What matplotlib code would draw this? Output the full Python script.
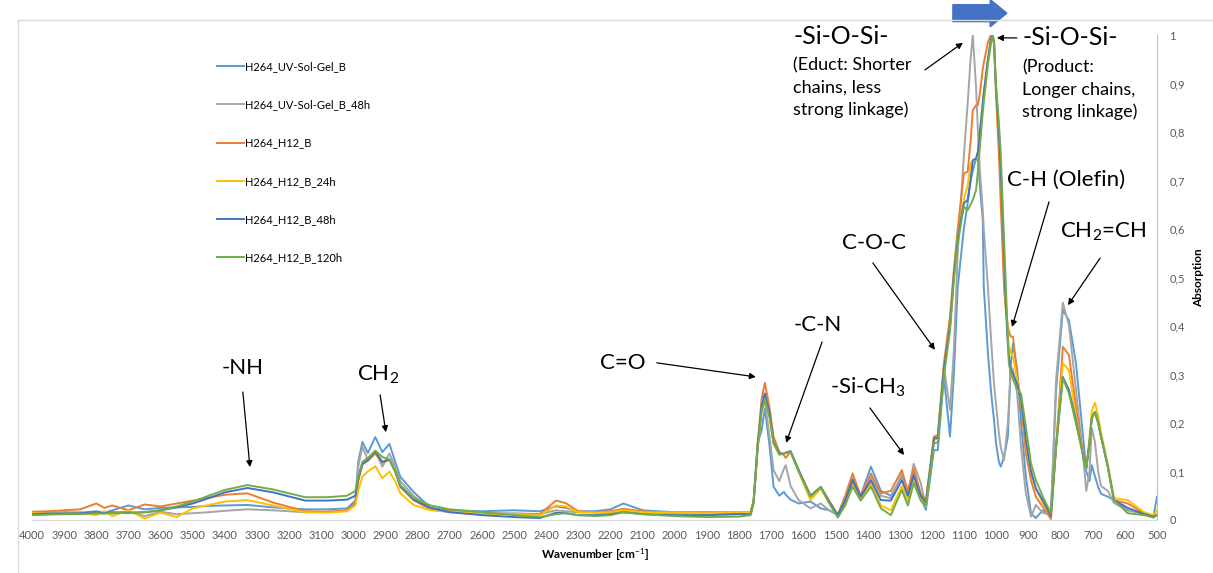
import numpy as np
import matplotlib
matplotlib.use('Agg')
import matplotlib.pyplot as plt
from matplotlib.patches import FancyArrow
from matplotlib.lines import Line2D
from matplotlib.ticker import FuncFormatter, MultipleLocator

plt.rcParams['font.family'] = ['Lato', 'DejaVu Sans']
plt.rcParams['mathtext.fontset'] = 'custom'
plt.rcParams['mathtext.rm'] = 'Lato'
plt.rcParams['mathtext.it'] = 'Lato:italic'
plt.rcParams['mathtext.bf'] = 'Lato:bold'

# Wellenzahl-Raster (cm^-1), von links nach rechts
wavenumber = [
    4000, 3950, 3900, 3850, 3800, 3775, 3750, 3700, 3650, 3600, 3550, 3500,
    3450, 3400, 3330, 3250, 3150, 3080,
    3020, 2994, 2985, 2972, 2955, 2932, 2910, 2888, 2870, 2854, 2813, 2760,
    2700, 2600, 2500, 2420, 2370, 2340, 2300, 2250, 2200, 2160, 2100, 2000, 1900, 1800,
    1764, 1755, 1742, 1730, 1720, 1705, 1693, 1675, 1661, 1655, 1640,
    1615, 1578, 1546, 1520, 1493, 1470, 1447, 1422, 1390, 1359, 1328, 1294, 1275, 1257, 1235, 1219, 1194,
    1182, 1163, 1144, 1132, 1120, 1101, 1089, 1080, 1073, 1063, 1057, 1051, 1042, 1039,
    1026, 1017, 1011, 1007, 1001, 992, 986, 976, 970, 964, 961, 955, 948, 935,
    923, 908, 892, 877, 855, 830, 814, 793, 774, 752, 727, 720, 710, 703, 693, 683, 674, 653, 634, 591, 540, 511, 500,
]

uv_b = [
    .012, .014, .016, .015, .018, .015, .020, .030, .022, .025, .026, .027,
    .029, .030, .031, .026, .022, .022,
    .024, .040, .120, .161, .138, .171, .140, .157, .120, .089, .058, .025,
    .020, .018, .020, .018, .028, .025, .018, .018, .022, .034, .020, .016, .016, .016,
    .016, .035, .160, .185, .230, .150, .069, .050, .058, .052, .042,
    .034, .038, .024, .020, .012, .045, .086, .050, .110, .060, .050, .090, .050, .100, .045, .021, .144,
    .144, .296, .172, .300, .480, .600, .653, .700, .720, .745, .742, .687, .619, .481,
    .344, .270, .230, .206, .160, .120, .110, .130, .150, .172, .220, .320, .364, .310,
    .200, .090, .014, .004, .020, .010, .268, .433, .412, .323, .151, .100, .080, .113, .090, .068, .054, .048, .041, .020, .015, .007, .048,
]

uv_b_48h = [
    .015, .016, .014, .016, .012, .016, .013, .018, .008, .017, .012, .014,
    .016, .019, .022, .020, .016, .017,
    .020, .035, .110, .151, .124, .141, .110, .137, .110, .080, .050, .022,
    .016, .014, .014, .012, .020, .018, .016, .016, .016, .018, .016, .016, .016, .016,
    .016, .038, .158, .228, .245, .170, .103, .080, .105, .113, .070,
    .041, .024, .034, .020, .010, .040, .080, .045, .089, .050, .045, .095, .055, .116, .076, .027, .165,
    .170, .316, .227, .350, .550, .750, .859, .950, 1.00, .893, .800, .720, .640, .600,
    .481, .380, .320, .280, .240, .180, .150, .124, .160, .200, .234, .316, .310, .260,
    .150, .055, .007, .031, .015, .010, .289, .448, .402, .268, .110, .060, .100, .190, .160, .100, .070, .060, .035, .020, .012, .007, .010,
]

h12_b = [
    .017, .018, .020, .022, .034, .025, .030, .020, .032, .028, .034, .040,
    .046, .052, .055, .036, .018, .017,
    .020, .035, .080, .115, .122, .137, .118, .124, .100, .069, .041, .022,
    .018, .014, .012, .012, .040, .035, .018, .016, .018, .023, .018, .014, .013, .015,
    .017, .041, .160, .250, .283, .230, .172, .140, .134, .128, .141,
    .103, .050, .068, .040, .010, .050, .096, .050, .096, .055, .060, .103, .060, .106, .055, .041, .172,
    .175, .323, .420, .515, .600, .715, .718, .780, .845, .855, .856, .880, .930, .942,
    .985, 1.00, .995, .985, .880, .756, .650, .481, .430, .400, .390, .378, .378, .300,
    .240, .137, .082, .048, .027, .002, .151, .357, .340, .233, .124, .107, .160, .210, .223, .200, .172, .110, .041, .034, .014, .007, .012,
]

h12_b_24h = [
    .014, .013, .012, .015, .010, .018, .008, .020, .003, .015, .006, .024,
    .031, .038, .041, .030, .016, .015,
    .018, .030, .060, .090, .100, .111, .086, .100, .080, .055, .031, .020,
    .017, .013, .012, .010, .030, .028, .016, .015, .016, .020, .016, .015, .014, .016,
    .016, .038, .150, .225, .250, .212, .160, .135, .136, .138, .140,
    .100, .041, .065, .035, .008, .035, .072, .045, .075, .030, .020, .070, .040, .085, .045, .034, .165,
    .168, .305, .400, .500, .580, .660, .690, .735, .740, .745, .760, .800, .860, .880,
    .950, .990, 1.00, .985, .890, .800, .720, .550, .450, .380, .360, .345, .337, .290,
    .250, .160, .100, .065, .035, .008, .151, .323, .309, .215, .124, .107, .170, .225, .242, .215, .180, .115, .045, .041, .016, .010, .020,
]

h12_b_48h = [
    .012, .013, .013, .014, .016, .014, .016, .015, .016, .020, .026, .034,
    .045, .057, .066, .057, .040, .040,
    .042, .050, .085, .115, .124, .141, .120, .125, .100, .069, .042, .025,
    .016, .010, .006, .004, .015, .014, .010, .010, .012, .016, .012, .010, .010, .012,
    .012, .038, .155, .235, .261, .218, .160, .137, .137, .139, .142,
    .103, .050, .068, .038, .010, .040, .082, .048, .082, .041, .040, .082, .050, .092, .050, .036, .168,
    .170, .310, .400, .505, .580, .653, .660, .700, .742, .745, .760, .800, .860, .880,
    .950, .990, 1.00, .985, .890, .800, .720, .550, .440, .360, .340, .310, .302, .280,
    .250, .165, .100, .065, .040, .008, .151, .295, .268, .205, .124, .107, .160, .210, .223, .200, .172, .110, .041, .025, .012, .007, .010,
]

h12_b_120h = [
    .010, .011, .012, .012, .014, .013, .015, .014, .016, .020, .028, .038,
    .050, .062, .072, .063, .047, .047,
    .050, .060, .090, .120, .128, .143, .130, .124, .100, .072, .045, .030,
    .022, .016, .010, .006, .012, .014, .010, .008, .010, .016, .012, .008, .006, .007,
    .010, .035, .150, .225, .250, .210, .158, .135, .137, .138, .140,
    .100, .048, .068, .035, .005, .030, .069, .040, .069, .024, .010, .062, .030, .076, .040, .030, .158,
    .160, .296, .390, .495, .570, .646, .639, .650, .660, .680, .720, .770, .840, .860,
    .940, .980, 1.00, .980, .900, .820, .756, .580, .480, .370, .323, .303, .290, .270,
    .260, .192, .117, .082, .048, .014, .151, .292, .261, .199, .124, .107, .160, .210, .223, .200, .172, .110, .041, .014, .010, .005, .010,
]

labels = ['H264_UV-Sol-Gel_B', 'H264_UV-Sol-Gel_B_48h', 'H264_H12_B',
          'H264_H12_B_24h', 'H264_H12_B_48h', 'H264_H12_B_120h']
colors = ['#5B9BD5', '#A5A5A5', '#ED7D31', '#FFC000', '#4472C4', '#70AD47']
series = [uv_b, uv_b_48h, h12_b, h12_b_24h, h12_b_48h, h12_b_120h]

W, H = 1213, 573
fig = plt.figure(figsize=(W / 100, H / 100), dpi=100)
ax = fig.add_axes([32 / W, 53 / H, 1125 / W, 485 / H])

for lab, col, y in zip(labels, colors, series):
    ax.plot(wavenumber, y, color=col, lw=1.4, label=lab)

ax.set_xlim(4000, 500)
ax.set_ylim(0, 1)
ax.xaxis.set_major_locator(MultipleLocator(100))
ax.yaxis.set_major_locator(MultipleLocator(0.1))
ax.yaxis.tick_right()
ax.yaxis.set_label_position('right')
ax.yaxis.set_major_formatter(FuncFormatter(lambda v, p: ('%g' % round(v, 1)).replace('.', ',')))
ax.tick_params(length=0, labelsize=8, labelcolor='#595959')
ax.tick_params(axis='x', pad=7)
ax.tick_params(axis='y', pad=9)
for s in ['top', 'left']:
    ax.spines[s].set_visible(False)
ax.spines['bottom'].set_color('#d9d9d9')
ax.spines['right'].set_color('#bfbfbf')

ax.set_xlabel('Wavenumber [cm$^{-1}$]', fontsize=8.5, fontweight='bold', labelpad=4)
ax.set_ylabel('Absorption', fontsize=8.5, fontweight='bold', labelpad=6)

ax.legend(loc='upper left', bbox_to_anchor=(217 / W, 1 - 61 / H), bbox_transform=fig.transFigure,
          frameon=False, fontsize=8, handlelength=2.4, handletextpad=0.15,
          labelspacing=2.45, borderpad=0, borderaxespad=0)

# Rahmen des Diagrammbereichs
fig.add_artist(Line2D([18 / W, 1], [1 - 20 / H] * 2, transform=fig.transFigure, color='#d9d9d9', lw=1))
fig.add_artist(Line2D([18 / W] * 2, [0, 1 - 20 / H], transform=fig.transFigure, color='#d9d9d9', lw=1))

# Beschriftungen der Banden
big = 16
mid = 13
arr = dict(arrowstyle='-|>', color='black', lw=0.9, mutation_scale=9, shrinkA=0, shrinkB=0)

def arrow(head, tail):
    ax.annotate('', xy=head, xytext=tail, arrowprops=arr, annotation_clip=False)

ax.text(3344, 0.313, '-NH', fontsize=big, ha='center', va='center')
arrow((3322, 0.109), (3344, 0.264))

ax.text(2924, 0.299, 'CH$_2$', fontsize=big, ha='center', va='center')
arrow((2899, 0.181), (2917, 0.258))

ax.text(2161, 0.324, 'C=O', fontsize=big, ha='center', va='center')
arrow((1748, 0.295), (2056, 0.324))

ax.text(1555, 0.402, '-C-N', fontsize=big, ha='center', va='center')
arrow((1654, 0.159), (1542, 0.367))

ax.text(1399, 0.274, '-Si-CH$_3$', fontsize=big, ha='center', va='center')
arrow((1287, 0.134), (1393, 0.231))

ax.text(1380, 0.571, 'C-O-C', fontsize=big, ha='center', va='center')
arrow((1191, 0.351), (1384, 0.530))

ax.text(967, 0.701, 'C-H (Olefin)', fontsize=big, ha='left', va='center')
arrow((951, 0.398), (836, 0.656))

ax.text(802, 0.594, 'CH$_2$=CH', fontsize=big, ha='left', va='center')
arrow((777, 0.443), (677, 0.540))

ax.text(1632, 0.996, '-Si-O-Si-', fontsize=18, ha='left', va='center')
ax.text(1632, 0.953, '(Educt: Shorter\nchains, less\nstrong linkage)', fontsize=mid,
        ha='left', va='top', linespacing=1.45)
arrow((1104, 0.984), (1222, 0.928))

ax.text(920, 0.994, '-Si-O-Si-', fontsize=18, ha='left', va='center')
ax.text(920, 0.949, '(Product:\nLonger chains,\nstrong linkage)', fontsize=mid,
        ha='left', va='top', linespacing=1.45)
arrow((998, 0.994), (936, 0.994))

ax.add_patch(FancyArrow(1135, 1.045, -168, 0, width=0.035, head_width=0.056, head_length=52,
                        length_includes_head=True, color='#4472C4', clip_on=False))

fig.savefig('out.png', dpi=100)
